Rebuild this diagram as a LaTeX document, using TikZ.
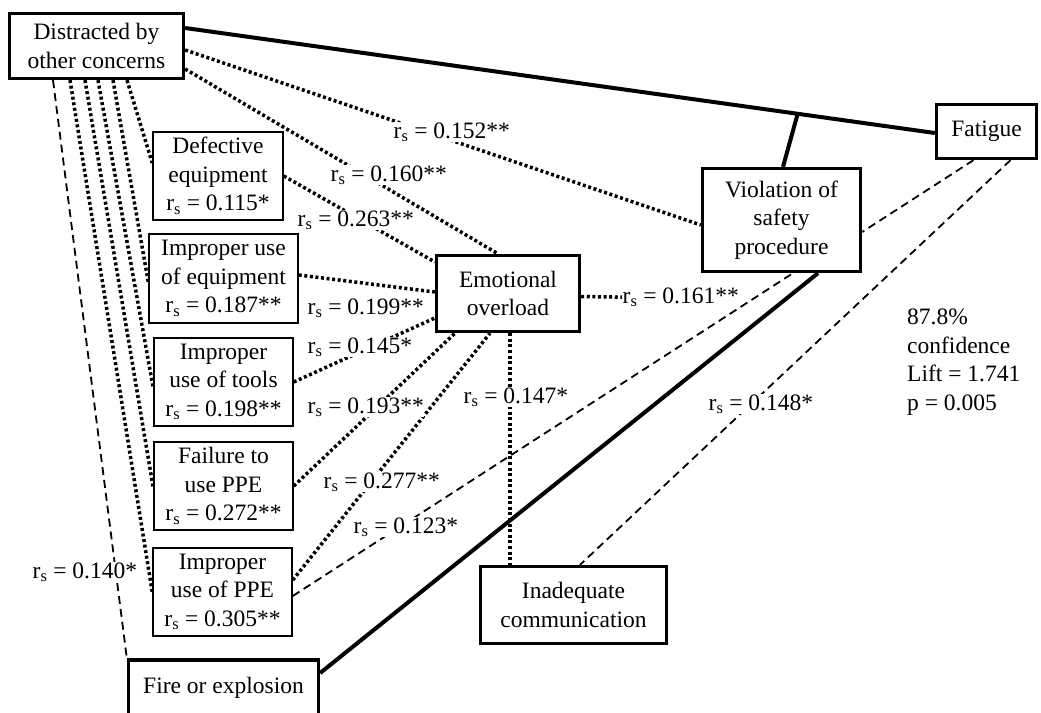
\documentclass[tikz,border=0pt]{standalone}
\usepackage{fontspec}
\setmainfont{Liberation Serif}
\usetikzlibrary{calc,backgrounds}
\newcommand{\rsub}{r\textsubscript{s}}
\tikzset{
  bigfont/.style={font=\fontsize{23.5}{28.5}\selectfont},
  box/.style={draw, fill=white, line width=3.3pt, inner sep=0pt, align=center, bigfont},
  tbox/.style={box, line width=1.5pt},
  lab/.style={fill=white, inner sep=0.5pt, anchor=base west, bigfont},
  solidline/.style={line width=4pt},
  dotline/.style={line width=3.5pt, dash pattern=on 3pt off 2.6pt},
  dashline/.style={line width=1.8pt, dash pattern=on 8pt off 5pt}
}
\begin{document}
\begin{tikzpicture}[x=1pt,y=-1pt]
\useasboundingbox (0,0) rectangle (1041,712);
% main boxes
\node[box, minimum width=174pt, minimum height=65pt] (dist) at (96.5,46) {Distracted by\\other concerns};
\node[box, minimum width=100pt, minimum height=54pt] (fat) at (986.5,131.5) {Fatigue};
\node[box, minimum width=158pt, minimum height=103pt] (viol) at (781.5,220) {Violation of\\safety\\procedure};
\node[box, minimum width=143pt, minimum height=76pt] (emo) at (508,293.5) {Emotional\\overload};
\node[box, minimum width=186pt, minimum height=77pt] (inad) at (573.5,605) {Inadequate\\communication};
\node[box, minimum width=190pt, minimum height=56pt] (fire) at (223.5,688) {Fire or explosion};
% thin boxes
\node[tbox, minimum width=130pt, minimum height=88pt] (def) at (218,176) {Defective\\equipment\\\rsub{} = 0.115*};
\node[tbox, minimum width=149pt, minimum height=89pt] (impeq) at (223.5,278.5) {Improper use\\of equipment\\\rsub{} = 0.187**};
\node[tbox, minimum width=139pt, minimum height=88pt] (tools) at (223.5,382) {Improper\\use of tools\\\rsub{} = 0.198**};
\node[tbox, minimum width=139pt, minimum height=88pt] (fail) at (223.5,486) {Failure to\\use PPE\\\rsub{} = 0.272**};
\node[tbox, minimum width=139pt, minimum height=88pt] (ppe) at (222.5,592) {Improper\\use of PPE\\\rsub{} = 0.305**};
% labels
\node[lab] (l152) at (393,138) {\rsub{} = 0.152**};
\node[lab] (l160) at (330,181) {\rsub{} = 0.160**};
\node[lab] (l263) at (297,226) {\rsub{} = 0.263**};
\node[lab] (l199) at (307,314) {\rsub{} = 0.199**};
\node[lab] (l145) at (307,353) {\rsub{} = 0.145*};
\node[lab] (l193) at (307,413) {\rsub{} = 0.193**};
\node[lab] (l277) at (323,488) {\rsub{} = 0.277**};
\node[lab] (l123) at (353,533) {\rsub{} = 0.123*};
\node[lab] (l140) at (32,578) {\rsub{} = 0.140*};
\node[lab] (l147) at (463,403) {\rsub{} = 0.147*};
\node[lab] (l161) at (622,303) {\rsub{} = 0.161**};
\node[lab] (l148) at (708,410) {\rsub{} = 0.148*};
\node[anchor=north west, align=left, inner sep=0pt, bigfont] (stats) at (907,309) {87.8\%\\confidence\\Lift = 1.741\\p = 0.005};
\begin{pgfonlayer}{background}
% solid
\draw[solidline] ([yshift=18pt]dist.east) -- ([yshift=-1.5pt]fat.west);
\coordinate (br) at ($([yshift=18pt]dist.east)!0.817!([yshift=-1.5pt]fat.west)$);
\draw[solidline] ([xshift=1.5pt]viol.north) -- (br);
\draw[solidline] ([xshift=36.5pt]viol.south) -- ([yshift=15pt]fire.east);
% dotted from Distracted
\draw[dotline] ([yshift=-4pt]dist.east) -- ([yshift=-5pt]viol.west);
\draw[dotline] ([yshift=-23pt]dist.east) -- ([xshift=-10pt]emo.north);
\draw[dotline] ([xshift=-26.5pt]dist.south) -- (ppe.west);
\draw[dotline] ([xshift=-11.5pt]dist.south) -- ([yshift=-2pt]fail.west);
\draw[dotline] ([xshift=1.5pt]dist.south) -- ([yshift=-6pt]tools.west);
\draw[dotline] ([xshift=16.5pt]dist.south) -- ([yshift=-3.5pt]impeq.west);
\draw[dotline] ([xshift=30.5pt]dist.south) -- ([yshift=13pt]def.west);
\draw[dashline] ([xshift=-43.5pt]dist.south) -- (fire.north west);
% dotted to Emotional
\draw[dotline] (def.east) -- ([yshift=31.5pt]emo.west);
\draw[dotline] ([yshift=3.5pt]impeq.east) -- ([yshift=1.5pt]emo.west);
\draw[dotline] (tools.east) -- ([yshift=-24.5pt]emo.west);
\draw[dotline] (fail.east) -- ([xshift=-53pt]emo.south);
\draw[dotline] ([yshift=12pt]ppe.east) -- ([xshift=-18pt]emo.south);
\draw[dotline] ([xshift=2pt]emo.south) -- ([xshift=-63.5pt]inad.north);
\draw[dotline] ([yshift=-3pt]emo.east) -- (l161.west);
% dashed
\draw[dashline] ([yshift=-4pt]ppe.east) -- ([xshift=11.5pt]viol.south);
\draw[dashline] ([xshift=-13pt]fat.south) -- ([yshift=-12pt]viol.east);
\draw[dashline] ([xshift=24pt]fat.south) -- ([xshift=6.5pt]inad.north);
\end{pgfonlayer}
\end{tikzpicture}
\end{document}
